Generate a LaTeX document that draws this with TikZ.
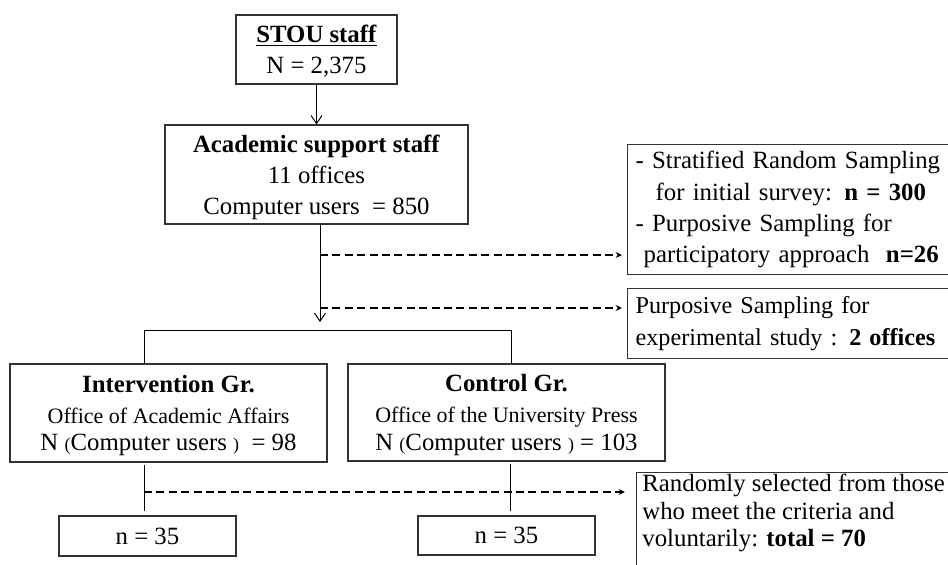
\documentclass[tikz,border=0pt]{standalone}
\usepackage{fontspec}
\setmainfont{Liberation Serif}
\usetikzlibrary{arrows.meta,calc}
\newcommand{\mainsz}{\fontsize{12.4}{15.6}\selectfont}
\newcommand{\smallsz}{\fontsize{11}{13}\selectfont}
\newcommand{\parsz}{\fontsize{9}{9}\selectfont}
\begin{document}
\begin{tikzpicture}[x=0.5pt,y=-0.5pt,
  box/.style={draw=black!80, line width=0.6pt, inner sep=0pt, align=center, font=\mainsz, text depth=0pt},
  lbox/.style={draw=black!80, line width=0.6pt, inner ysep=0pt, align=left, font=\fontsize{12.4}{15.6}\selectfont},
  conn/.style={draw, line width=0.5pt},
  sarrow/.style={conn, -{Straight Barb[length=4pt,width=5.5pt]}},
  dline/.style={draw, line width=1.1pt, dash pattern=on 4pt off 2.2pt, -{Stealth[length=3.2pt,width=3pt]}}
]
\useasboundingbox (0,0) rectangle (948,565);

% boxes
\node[box, minimum width=80.5pt, minimum height=34.5pt] (stou) at (316.5,49.5)
  {\underline{\textbf{STOU staff}}\\N = 2,375};
\node[box, minimum width=151.5pt, minimum height=49.5pt] (acad) at (316.5,174.5)
  {\textbf{Academic support staff}\\11 offices\\Computer users \ = 850};
\node[lbox, anchor=north west, minimum height=65pt,
      inner xsep=4pt, text width=175pt] (r1) at (627,144)
  {- Stratified Random Sampling\\
   \hspace*{10pt}for initial survey: \textbf{n = 300}\\
   - Purposive Sampling for\\
   \hspace*{4pt}participatory approach \ \textbf{n=26}};
\node[lbox, anchor=north west, minimum height=35pt, font=\fontsize{12.1}{15.6}\selectfont,
      inner xsep=4pt, text width=175pt] (r2) at (627,288)
  {Purposive Sampling for\\experimental study : \textbf{2 offices}};
\node[box, minimum width=158.5pt, minimum height=49pt] (int) at (168.5,413)
  {\textbf{Intervention Gr.}\\{\smallsz Office of Academic Affairs}\\[-1.8pt]
   N {\parsz(}Computer users {\parsz)} \ = 98};
\node[box, minimum width=158.5pt, minimum height=48.5pt] (ctl) at (506.5,412.5)
  {\textbf{Control Gr.}\\{\smallsz Office of the University Press}\\[-1.8pt]
   N {\parsz(}Computer users {\parsz)} = 103};
\node[box, minimum width=88.5pt, minimum height=20pt] (n1) at (147.5,536) {n = 35};
\node[box, minimum width=88.5pt, minimum height=19.5pt] (n2) at (506.5,535.5) {n = 35};
\node[draw=black!80, line width=0.6pt, anchor=north west, minimum width=170pt,
      minimum height=52pt, inner sep=0pt] (r3) at (636,472) {};
\node[anchor=north west, inner sep=0pt, align=left, font=\fontsize{12.4}{13.6}\selectfont]
  (r3t) at (642,474)
  {Randomly selected from those\\who meet the criteria and\\voluntarily: \textbf{total = 70}};

% connectors
\coordinate (v1) at (320,322);
\coordinate (d1) at (320,255);
\coordinate (d2) at (320,308);
\coordinate (bl) at (144,331);
\coordinate (br) at (511,331);
\coordinate (d3) at (144,492);
\coordinate (bl2) at (510,492);

\draw[sarrow] (stou) -- (acad);
\draw[sarrow] (acad.south -| v1) -- (v1);
\draw[dline, shorten >=2.5pt] (d1) -- (d1 -| r1.west);
\draw[dline, shorten >=2.5pt] (d2) -- (d2 -| r2.west);
\draw[conn] (int.north -| bl) -- (bl) -- (br) -- (br |- ctl.north);
\draw[conn, shorten <=1pt, shorten >=2pt] (int.south -| bl) -- (n1.north -| bl);
\draw[conn, shorten <=1pt, shorten >=2pt] (ctl.south -| bl2) -- (n2.north -| bl2);
\draw[dline, shorten >=5.5pt] (d3) -- (d3 -| r3.west);
\end{tikzpicture}
\end{document}
